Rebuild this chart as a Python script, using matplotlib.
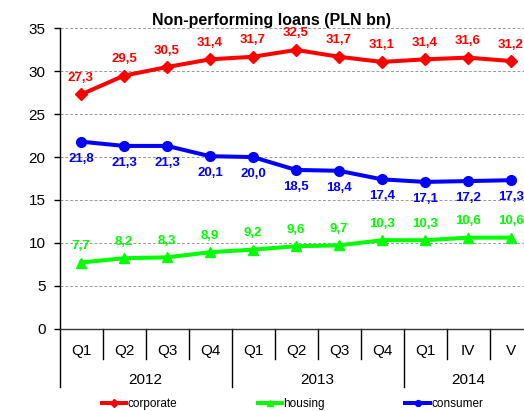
import matplotlib
matplotlib.use('Agg')
import matplotlib.pyplot as plt
import matplotlib.transforms as mtransforms
import numpy as np

plt.rcParams['font.family'] = ['Liberation Sans', 'DejaVu Sans']

# Non-performing loans, PLN bn
periods = ['Q1', 'Q2', 'Q3', 'Q4', 'Q1', 'Q2', 'Q3', 'Q4', 'Q1', 'IV', 'V']
years = ['2012', '2013', '2014']
year_sizes = [4, 4, 3]
corporate = [27.3, 29.5, 30.5, 31.4, 31.7, 32.5, 31.7, 31.1, 31.4, 31.6, 31.2]
housing = [7.7, 8.2, 8.3, 8.9, 9.2, 9.6, 9.7, 10.3, 10.3, 10.6, 10.6]
consumer = [21.8, 21.3, 21.3, 20.1, 20.0, 18.5, 18.4, 17.4, 17.1, 17.2, 17.3]

fig = plt.figure(figsize=(5.24, 4.11), dpi=100)
ax = fig.add_axes([59.5 / 524, 0.2007, 473 / 524, 0.7300])

x = np.arange(len(periods))
series = [
    (corporate, 'corporate', '#ff0000', 'D', 6.5, 7.5),
    (housing, 'housing', '#00ff00', '^', 7.5, 7.5),
    (consumer, 'consumer', '#0000ff', 'o', 7, -8),
]
for vals, name, col, mk, ms, off in series:
    ax.plot(x, vals, color=col, lw=2.9, marker=mk, ms=ms, label=name,
            clip_on=False, zorder=3)
    for xi, v in zip(x, vals):
        ax.annotate(f'{v:.1f}'.replace('.', ','), (xi, v),
                    xytext=(0, off), textcoords='offset points',
                    ha='center', va='bottom' if off > 0 else 'top',
                    color=col, fontsize=9.5, fontweight='bold')

ax.set_xlim(-0.5, len(periods) - 0.5)
ax.set_ylim(0, 35)
ax.set_yticks(range(0, 36, 5))
ax.tick_params(axis='y', labelsize=11, length=4, width=1, direction='out', pad=6)
ax.yaxis.grid(True, ls=(0, (3, 2)), color='#999999', lw=0.7)
ax.set_axisbelow(True)
for s in ['top', 'right']:
    ax.spines[s].set_visible(False)
ax.spines['left'].set_linewidth(1)
ax.spines['bottom'].set_linewidth(1)
ax.spines['bottom'].set_color('#333333')

# two-level category axis
ax.set_xticks(x)
ax.set_xticklabels(periods, fontsize=11)
ax.tick_params(axis='x', length=0, pad=11)
trans = mtransforms.blended_transform_factory(ax.transData, ax.transAxes)
bounds = np.cumsum([0] + year_sizes) - 0.5
for b in np.arange(-0.5, len(periods), 1.0):
    low = -0.195 if np.isclose(bounds, b).any() else -0.102
    ax.plot([b, b], [0, low], color='black', lw=1, transform=trans,
            clip_on=False)
for yr, a, b in zip(years, bounds[:-1], bounds[1:]):
    ax.text((a + b) / 2, -0.17, yr, transform=trans, ha='center',
            va='center', fontsize=11)

ax.set_title('Non-performing loans (PLN bn)', fontsize=11.5,
             fontweight='bold', x=0.449, pad=1.5)

fig.legend(loc='center', bbox_to_anchor=(0.558, 0.017), ncol=3,
           frameon=False, fontsize=8.5, handlelength=2.1, handletextpad=0.1,
           columnspacing=6.8, markerscale=0.6)

fig.savefig('out.png', dpi=100)
